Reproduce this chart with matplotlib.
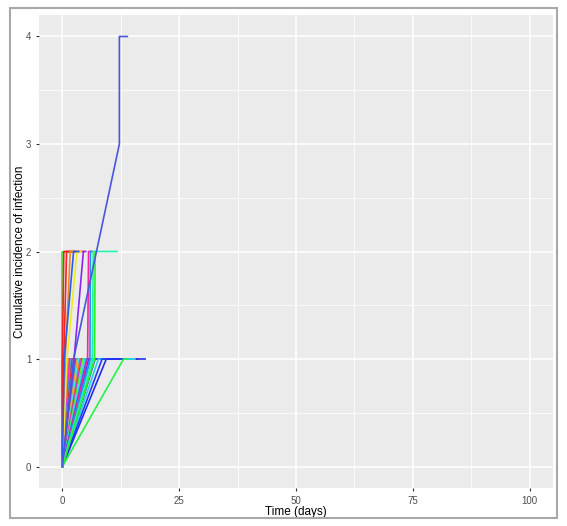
"""Cumulative incidence of infection per individual over time."""

import numpy as np
import matplotlib
matplotlib.use('Agg')
import matplotlib.pyplot as plt
from matplotlib.colors import hsv_to_rgb
from matplotlib.patches import Rectangle

plt.rcParams['font.family'] = ['Liberation Sans', 'DejaVu Sans']

# individuals infected once: time of infection, end of follow-up (days)
single_t1 = [0.0, 0.1, 0.2, 0.3, 0.4, 0.6, 0.8, 1.0, 1.2, 1.4, 1.6, 1.9,
             2.1, 2.4, 2.6, 2.9, 3.2, 3.5, 3.8, 4.1, 4.4, 4.8, 5.2, 5.6,
             6.0, 6.5, 7.0, 7.7, 8.5, 9.4, 13.1]
single_end = [9.0, 15.2, 11.0, 14.0, 8.5, 16.2, 12.0, 13.5, 10.5, 15.8,
              9.5, 12.8, 14.6, 11.5, 16.0, 10.0, 13.0, 15.0, 12.2, 9.8,
              14.2, 11.8, 13.6, 17.7, 12.5, 15.5, 10.8, 14.8, 12.0, 13.2,
              14.0]

# individuals infected twice: first, second infection, end of follow-up
double_t1 = [0.0, 0.0, 0.3, 0.6, 1.0, 0.4, 2.5, 5.4, 5.9, 6.4, 6.9]
double_t2 = [0.0, 0.3, 0.9, 1.7, 3.1, 2.4, 4.5, 5.6, 6.0, 6.6, 7.0]
double_end = [2.5, 4.5, 3.0, 2.6, 4.0, 3.5, 5.0, 6.2, 6.5, 11.7, 7.2]

# individual with four infections
top_times = [0.0, 2.4, 12.2, 12.2, 13.9]
top_counts = [0, 1, 3, 4, 4]

x_ticks = [0, 25, 50, 75, 100]
y_ticks = [0, 1, 2, 3, 4]

# line hues (rainbow palette)
single_hue = [0.72, 0.0, 0.75, 0.33, 0.9, 0.16, 0.0, 0.25, 0.95, 0.08,
              0.85, 0.55, 0.0, 0.45, 0.92, 0.6, 0.1, 0.5, 0.05, 0.8, 0.3,
              0.52, 0.62, 0.66, 0.58, 0.48, 0.7, 0.53, 0.65, 0.66, 0.36]
double_hue = [0.33, 0.0, 0.0, 0.08, 0.16, 0.62, 0.75, 0.9, 0.58, 0.45, 0.33]

fig = plt.figure(figsize=(5.67, 5.26), dpi=100)
fig.patches.append(Rectangle((0.0176, 0.0152), 0.9645, 0.9696,
                             transform=fig.transFigure, fill=False,
                             edgecolor='#a8a8a8', linewidth=1.5))
ax = fig.add_axes([0.0688, 0.0722, 0.9065, 0.8993])
ax.set_facecolor('#EBEBEB')


def hue_color(h):
    return hsv_to_rgb([h, 0.85, 0.95])


for t1, te, h in zip(single_t1, single_end, single_hue):
    ax.plot([0, t1, te], [0, 1, 1], color=hue_color(h), linewidth=1.2)
for t1, t2, te, h in zip(double_t1, double_t2, double_end, double_hue):
    ax.plot([0, t1, t2, te], [0, 1, 2, 2], color=hue_color(h), linewidth=1.2)
ax.plot(top_times, top_counts, color='#4a55e0', linewidth=1.2)

ax.set_xlim(-5, 105)
ax.set_ylim(-0.2, 4.2)
ax.set_xticks(x_ticks)
ax.set_yticks(y_ticks)
ax.set_xticks([12.5, 37.5, 62.5, 87.5], minor=True)
ax.set_yticks([0.5, 1.5, 2.5, 3.5], minor=True)
ax.grid(True, which='major', color='white', linewidth=1.1)
ax.grid(True, which='minor', color='white', linewidth=0.55)
ax.set_axisbelow(True)
for s in ax.spines.values():
    s.set_visible(False)
ax.tick_params(which='major', length=2.5, width=0.8, color='#333333',
               labelsize=7, labelcolor='#4D4D4D', pad=3)
ax.tick_params(which='minor', length=0)
ax.set_xlabel('Time (days)', fontsize=8.5, labelpad=0)
ax.set_ylabel('Cumulative incidence of infection', fontsize=8.5, labelpad=0)

fig.savefig('out.png', dpi=100)
